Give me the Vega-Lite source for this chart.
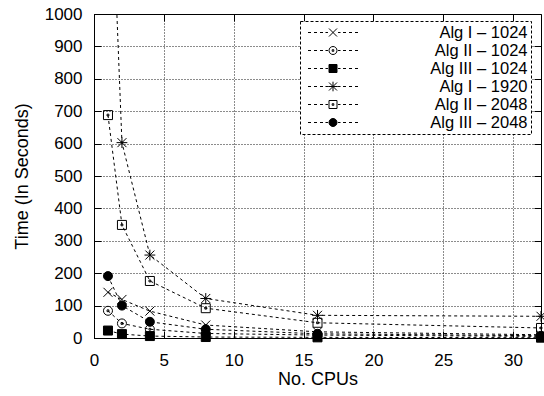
{
  "$schema": "https://vega.github.io/schema/vega-lite/v6.json",
  "width": 447,
  "height": 324,
  "autosize": {"type": "none"},
  "padding": {"left": 94, "top": 14, "right": 3, "bottom": 58},
  "background": "white",
  "config": {
    "font": "Liberation Sans",
    "view": {"stroke": "black", "strokeWidth": 1},
    "axis": {
      "domainColor": "black", "tickColor": "black", "labelColor": "black", "titleColor": "black",
      "labelFont": "Liberation Sans", "titleFont": "Liberation Sans",
      "labelFontSize": 17, "titleFontSize": 18, "titleFontWeight": "normal",
      "gridColor": "black", "gridDash": [1, 2], "gridOpacity": 0.9, "gridWidth": 1
    }
  },
  "data": {"values": [
    {"series": "Alg I – 1024", "cpus": 1, "time": 141},
    {"series": "Alg I – 1024", "cpus": 2, "time": 119},
    {"series": "Alg I – 1024", "cpus": 4, "time": 83},
    {"series": "Alg I – 1024", "cpus": 8, "time": 40},
    {"series": "Alg I – 1024", "cpus": 16, "time": 19},
    {"series": "Alg I – 1024", "cpus": 32, "time": 10},
    {"series": "Alg II – 1024", "cpus": 1, "time": 84},
    {"series": "Alg II – 1024", "cpus": 2, "time": 45},
    {"series": "Alg II – 1024", "cpus": 4, "time": 27},
    {"series": "Alg II – 1024", "cpus": 8, "time": 14},
    {"series": "Alg II – 1024", "cpus": 16, "time": 9},
    {"series": "Alg II – 1024", "cpus": 32, "time": 5},
    {"series": "Alg III – 1024", "cpus": 1, "time": 23},
    {"series": "Alg III – 1024", "cpus": 2, "time": 12},
    {"series": "Alg III – 1024", "cpus": 4, "time": 6},
    {"series": "Alg III – 1024", "cpus": 8, "time": 3},
    {"series": "Alg III – 1024", "cpus": 16, "time": 2},
    {"series": "Alg III – 1024", "cpus": 32, "time": 1},
    {"series": "Alg I – 1920", "cpus": 1, "time": 1700},
    {"series": "Alg I – 1920", "cpus": 2, "time": 603},
    {"series": "Alg I – 1920", "cpus": 4, "time": 256},
    {"series": "Alg I – 1920", "cpus": 8, "time": 122},
    {"series": "Alg I – 1920", "cpus": 16, "time": 70},
    {"series": "Alg I – 1920", "cpus": 32, "time": 67},
    {"series": "Alg II – 2048", "cpus": 1, "time": 688},
    {"series": "Alg II – 2048", "cpus": 2, "time": 349},
    {"series": "Alg II – 2048", "cpus": 4, "time": 176},
    {"series": "Alg II – 2048", "cpus": 8, "time": 92},
    {"series": "Alg II – 2048", "cpus": 16, "time": 47},
    {"series": "Alg II – 2048", "cpus": 32, "time": 31},
    {"series": "Alg III – 2048", "cpus": 1, "time": 191},
    {"series": "Alg III – 2048", "cpus": 2, "time": 100},
    {"series": "Alg III – 2048", "cpus": 4, "time": 50},
    {"series": "Alg III – 2048", "cpus": 8, "time": 27},
    {"series": "Alg III – 2048", "cpus": 16, "time": 13},
    {"series": "Alg III – 2048", "cpus": 32, "time": 7}
  ]},
  "layer": [
    {
      "mark": {"type": "line", "color": "black", "strokeWidth": 1, "strokeDash": [3, 3], "clip": true},
      "encoding": {
        "x": {"field": "cpus", "type": "quantitative", "scale": {"domain": [0, 32], "nice": false},
              "axis": {"title": "No. CPUs", "values": [0, 5, 10, 15, 20, 25, 30], "tickSize": -7, "labelPadding": 21, "grid": true, "titlePadding": 2, "labelFlush": false}},
        "y": {"field": "time", "type": "quantitative", "scale": {"domain": [0, 1000], "nice": false},
              "axis": {"title": "Time (In Seconds)", "format": "d", "values": [0, 100, 200, 300, 400, 500, 600, 700, 800, 900, 1000], "tickSize": -7, "labelPadding": 19, "grid": true, "titlePadding": 13, "labelFlush": false}},
        "detail": {"field": "series"}
      }
    },
    {
      "mark": {"type": "point", "filled": false, "color": "black", "stroke": "black", "strokeWidth": 1, "size": 81, "opacity": 1},
      "encoding": {
        "x": {"field": "cpus", "type": "quantitative",
              "axis": {"orient": "top", "title": null, "labels": false, "values": [0, 5, 10, 15, 20, 25, 30], "tickSize": -7, "grid": false, "domain": false}},
        "y": {"field": "time", "type": "quantitative",
              "axis": {"orient": "right", "title": null, "labels": false, "values": [0, 100, 200, 300, 400, 500, 600, 700, 800, 900, 1000], "tickSize": -7, "grid": false, "domain": false}},
        "shape": {"field": "series", "type": "nominal", "legend": null,
          "scale": {
            "domain": ["Alg I – 1024", "Alg II – 1024", "Alg III – 1024", "Alg I – 1920", "Alg II – 2048", "Alg III – 2048"],
            "range": [
              "M-1,-1L1,1M-1,1L1,-1",
              "M-1,0A1,1,0,1,0,1,0A1,1,0,1,0,-1,0ZM-0.2,-0.2H0.2V0.2H-0.2Z",
              "M-1,-1H1V1H-1Z",
              "M-1,-1L1,1M-1,1L1,-1M0,-1.2V1.2M-1.2,0H1.2",
              "M-1,-1H1V1H-1ZM-0.2,-0.2H0.2V0.2H-0.2Z",
              "M-1,0A1,1,0,1,0,1,0A1,1,0,1,0,-1,0Z"
            ]}},
        "fill": {"field": "series", "type": "nominal", "legend": null,
          "scale": {
            "domain": ["Alg I – 1024", "Alg II – 1024", "Alg III – 1024", "Alg I – 1920", "Alg II – 2048", "Alg III – 2048"],
            "range": ["transparent", "transparent", "black", "transparent", "transparent", "black"]}}
      }
    },
    {
      "mark": {"type": "point", "filled": false, "color": "black", "stroke": "black", "strokeWidth": 1, "size": 256, "opacity": 0},
      "encoding": {
        "x": {"field": "cpus", "type": "quantitative", "axis": null},
        "y": {"field": "time", "type": "quantitative", "axis": null},
        "shape": {"field": "series", "type": "nominal",
          "scale": {
            "domain": ["Alg I – 1024", "Alg II – 1024", "Alg III – 1024", "Alg I – 1920", "Alg II – 2048", "Alg III – 2048"],
            "range": [
              "M-3.125,0H-2.75M-2.375,0H-2M-1.625,0H-1.25M-0.94,0H-0.63M0.63,0H0.94M1.25,0H1.625M2,0H2.375M2.75,0H3.125M-0.5,-0.5L0.5,0.5M-0.5,0.5L0.5,-0.5",
              "M-3.125,0H-2.75M-2.375,0H-2M-1.625,0H-1.25M-0.94,0H-0.63M0.63,0H0.94M1.25,0H1.625M2,0H2.375M2.75,0H3.125M-0.5,0A0.5,0.5,0,1,0,0.5,0A0.5,0.5,0,1,0,-0.5,0ZM-0.1,-0.1H0.1V0.1H-0.1Z",
              "M-3.125,0H-2.75M-2.375,0H-2M-1.625,0H-1.25M-0.94,0H-0.63M0.63,0H0.94M1.25,0H1.625M2,0H2.375M2.75,0H3.125M-0.5,-0.5H0.5V0.5H-0.5Z",
              "M-3.125,0H-2.75M-2.375,0H-2M-1.625,0H-1.25M-0.94,0H-0.63M0.63,0H0.94M1.25,0H1.625M2,0H2.375M2.75,0H3.125M-0.5,-0.5L0.5,0.5M-0.5,0.5L0.5,-0.5M0,-0.6V0.6M-0.6,0H0.6",
              "M-3.125,0H-2.75M-2.375,0H-2M-1.625,0H-1.25M-0.94,0H-0.63M0.63,0H0.94M1.25,0H1.625M2,0H2.375M2.75,0H3.125M-0.5,-0.5H0.5V0.5H-0.5ZM-0.1,-0.1H0.1V0.1H-0.1Z",
              "M-3.125,0H-2.75M-2.375,0H-2M-1.625,0H-1.25M-0.94,0H-0.63M0.63,0H0.94M1.25,0H1.625M2,0H2.375M2.75,0H3.125M-0.5,0A0.5,0.5,0,1,0,0.5,0A0.5,0.5,0,1,0,-0.5,0Z"
            ]},
          "legend": {
            "title": null, "orient": "none", "legendX": 206, "legendY": 7,
            "fillColor": "white", "strokeColor": "black", "padding": 3,
            "symbolSize": 256, "symbolStrokeWidth": 1, "symbolStrokeColor": "black", "symbolOpacity": 1, "symbolOffset": 21.5,
            "labelFont": "Liberation Sans", "labelFontSize": 16.5, "labelColor": "black",
            "labelAlign": "right", "labelOffset": 186, "labelLimit": 0, "rowPadding": 1,
            "encode": {"symbols": {"update": {"opacity": {"value": 1}, "stroke": {"value": "black"}}},
                       "legend": {"update": {"strokeDash": {"value": [3, 2]}}}}
          }},
        "fill": {"field": "series", "type": "nominal",
          "scale": {
            "domain": ["Alg I – 1024", "Alg II – 1024", "Alg III – 1024", "Alg I – 1920", "Alg II – 2048", "Alg III – 2048"],
            "range": ["transparent", "transparent", "black", "transparent", "transparent", "black"]},
          "legend": {
            "title": null, "orient": "none", "legendX": 206, "legendY": 7,
            "fillColor": "white", "strokeColor": "black", "padding": 3,
            "symbolSize": 256, "symbolStrokeWidth": 1, "symbolStrokeColor": "black", "symbolOpacity": 1, "symbolOffset": 21.5,
            "labelFont": "Liberation Sans", "labelFontSize": 16.5, "labelColor": "black",
            "labelAlign": "right", "labelOffset": 186, "labelLimit": 0, "rowPadding": 1,
            "encode": {"symbols": {"update": {"opacity": {"value": 1}, "stroke": {"value": "black"}}},
                       "legend": {"update": {"strokeDash": {"value": [3, 2]}}}}
          }}
      }
    }
  ],
  "resolve": {
    "scale": {"shape": "independent", "fill": "independent"},
    "axis": {"x": "independent", "y": "independent"},
    "legend": {"shape": "independent", "fill": "independent"}
  }
}
